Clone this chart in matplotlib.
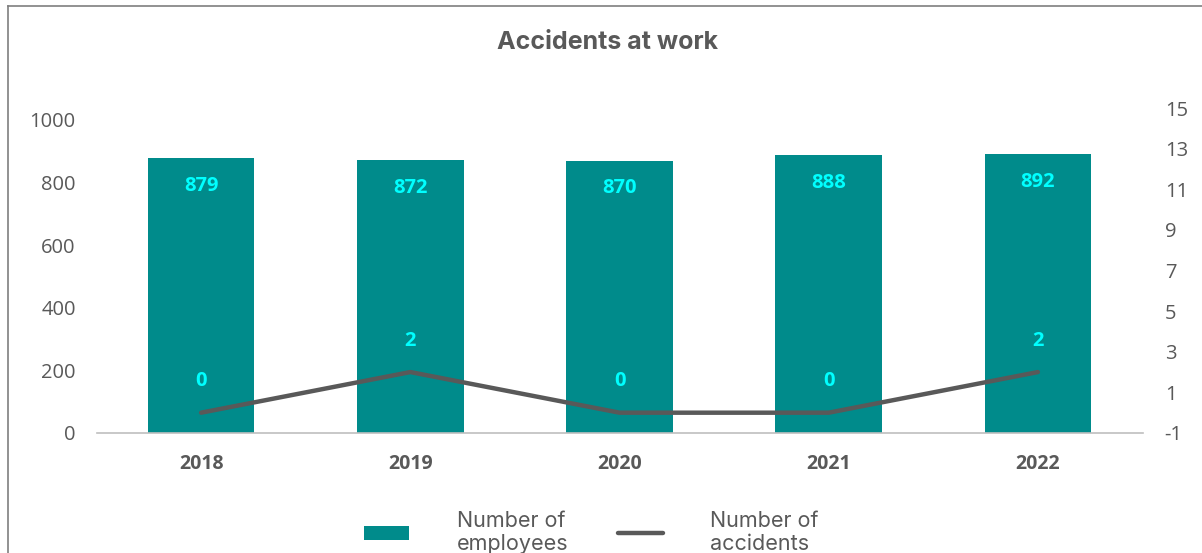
import matplotlib.pyplot as plt
from matplotlib.lines import Line2D

years = ['2018', '2019', '2020', '2021', '2022']
employees = [879, 872, 870, 888, 892]
accidents = [0, 2, 0, 0, 2]

teal = '#008b8b'
cyan = '#00ffff'
grey = '#595959'

plt.rcParams['font.family'] = ['Open Sans', 'DejaVu Sans']
plt.rcParams['axes.unicode_minus'] = False

fig = plt.figure(figsize=(12.02, 5.53), dpi=100)
ax = fig.add_axes([0.0803, 0.2170, 0.8702, 0.5877])
ax2 = ax.twinx()

x = list(range(len(years)))
bars = ax.bar(x, employees, width=0.51, color=teal, label='Number of\nemployees', zorder=2)
line, = ax2.plot(x, accidents, color=grey, lw=3.2, solid_capstyle='round',
                 label='Number of\naccidents', zorder=3)

ax.set_xlim(-0.5, len(years) - 0.5)
ax.set_ylim(0, 1038.3)
ax.set_yticks(range(0, 1001, 200))
ax2.set_ylim(-1, 15)
ax2.set_yticks(range(-1, 16, 2))

ax.set_xticks(x)
ax.set_xticklabels(years, fontweight='bold')
ax.tick_params(axis='x', length=0, pad=15, labelsize=14, labelcolor=grey)
ax.tick_params(axis='y', length=0, pad=15, labelsize=14.5, labelcolor=grey)
ax2.tick_params(axis='y', length=0, pad=16, labelsize=14.5, labelcolor=grey)

for a in (ax, ax2):
    for s in a.spines.values():
        s.set_visible(False)
ax.spines['bottom'].set_visible(True)
ax.spines['bottom'].set_color('#bfbfbf')
ax.spines['bottom'].set_linewidth(1.2)

# value labels
for xi, v in zip(x, employees):
    ax.annotate(str(v), (xi, v), xytext=(0, -20), textcoords='offset points',
                ha='center', va='center', color=cyan, fontsize=14.5, fontweight='bold')
for xi, v in zip(x, accidents):
    ax2.annotate(str(v), (xi, v), xytext=(0, 22.5), textcoords='offset points',
                 ha='center', va='center', color=cyan, fontsize=14.5, fontweight='bold')

fig.text(0.505, 0.924, 'Accidents at work', ha='center', va='center',
         fontsize=18, fontweight='bold', color=grey, family=['Inter', 'DejaVu Sans'])

fig.legend(handles=[bars, line], loc='center', bbox_to_anchor=(0.492, 0.037),
           ncol=2, frameon=False, labelcolor=grey,
           prop={'family': ['Inter', 'DejaVu Sans'], 'size': 15.5},
           handlelength=2.1, handleheight=0.6, handletextpad=2.2, columnspacing=2.3,
           labelspacing=0.5)

# outer frame
fig.add_artist(Line2D([8 / 1202, 8 / 1202], [0, 1 - 6 / 553], color='#7f7f7f', lw=1.2))
fig.add_artist(Line2D([8 / 1202, 1], [1 - 6 / 553, 1 - 6 / 553], color='#7f7f7f', lw=1.2))

fig.savefig('out.png', dpi=100)
